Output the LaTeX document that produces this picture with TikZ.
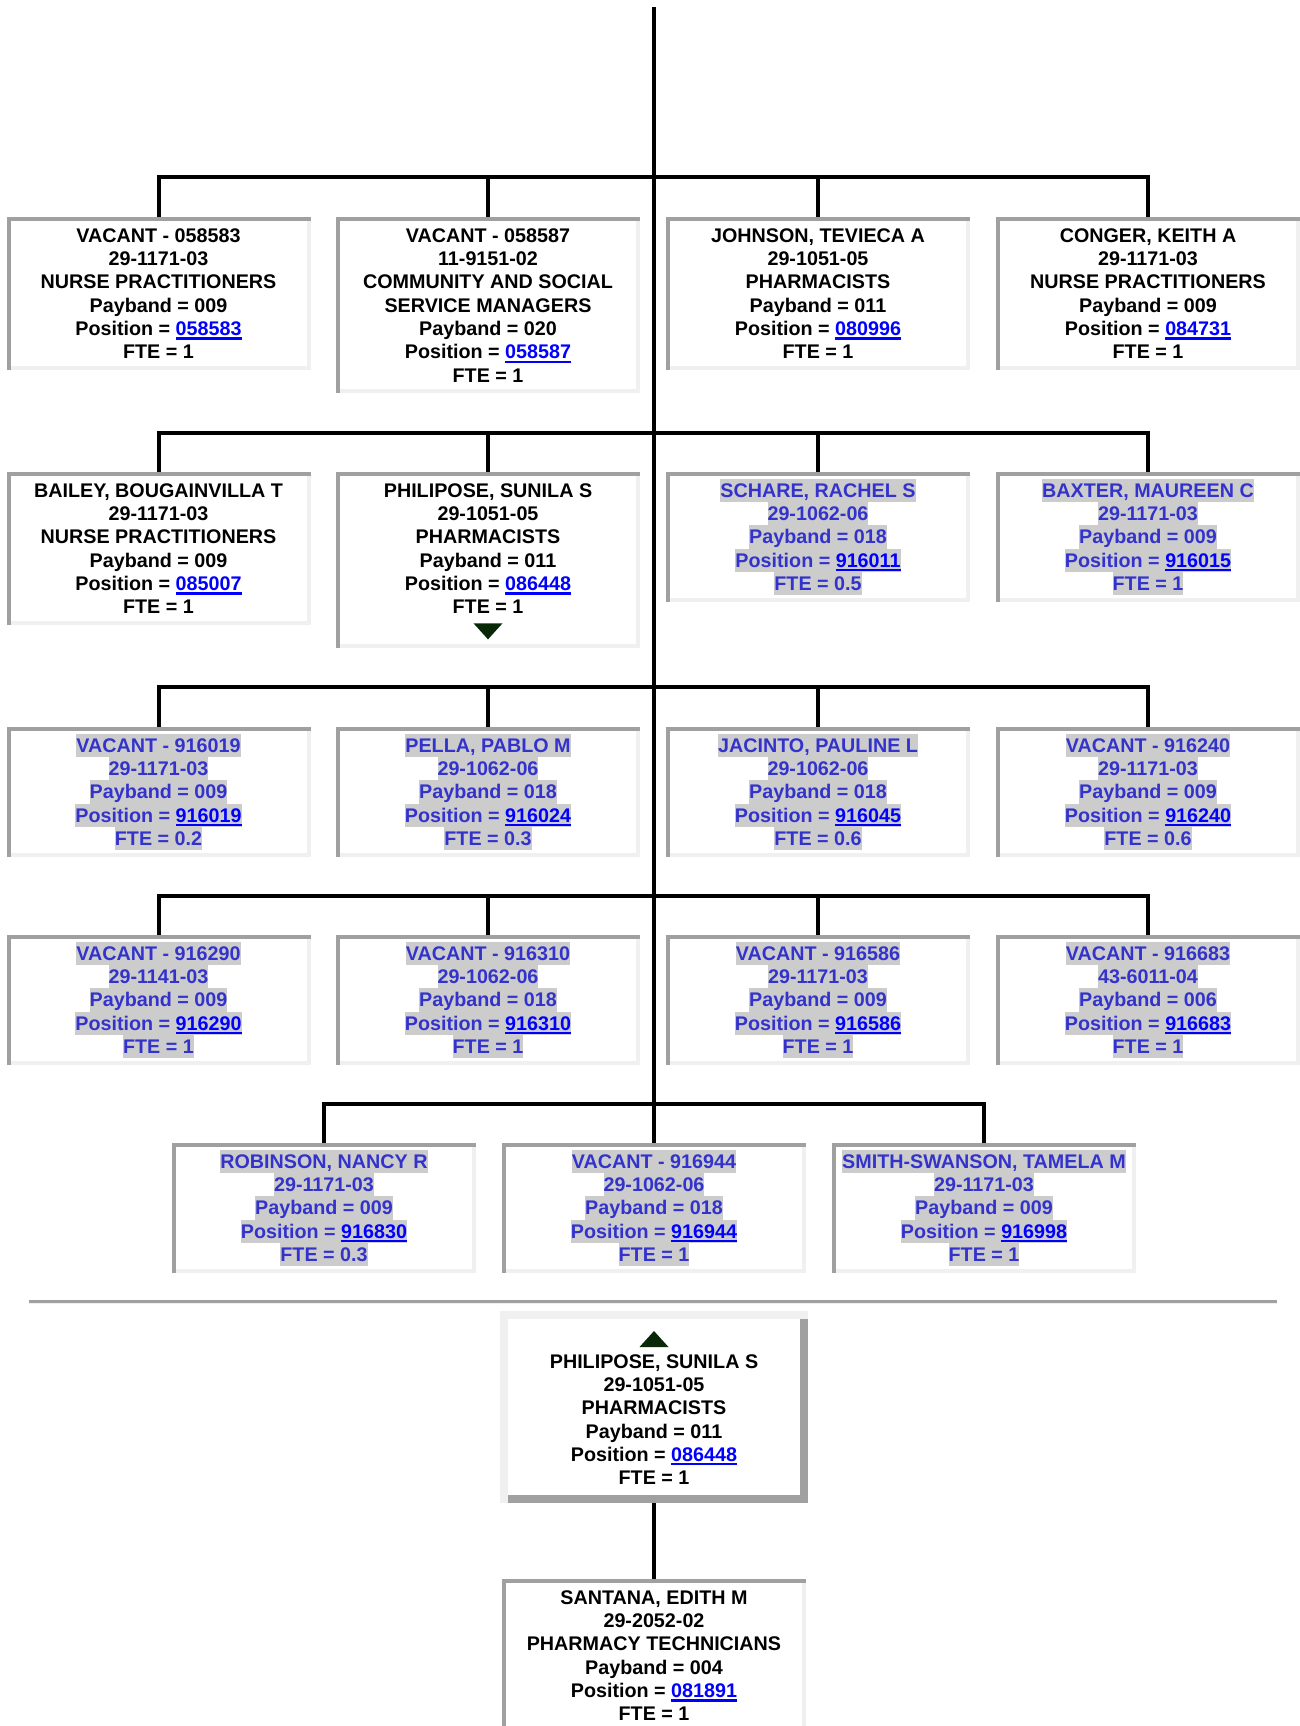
\documentclass[tikz,border=0pt]{standalone}
\usepackage{fontspec}
\setmainfont{Liberation Sans}
\definecolor{bDark}{RGB}{160, 160, 160}
\definecolor{bLight}{RGB}{240, 240, 240}
\definecolor{hlGray}{RGB}{204, 204, 204}
\definecolor{txtBlue}{RGB}{51, 51, 204}
\definecolor{linkBlue}{RGB}{0, 0, 255}
\definecolor{triGreen}{RGB}{8, 40, 8}
\usetikzlibrary{backgrounds}
\newcommand{\posStrut}{\rule[-3.5pt]{0pt}{17.5pt}}
\newcommand{\hl}[1]{{\setlength{\fboxsep}{0pt}\colorbox{hlGray}{\posStrut#1}}}
\newcommand{\posLink}[1]{\textcolor{linkBlue}{\setbox0=\hbox{#1}\rlap{\rule[-3pt]{\wd0}{1.6pt}}\box0}}

\begin{document}
\begin{tikzpicture}[
    x=0.75pt, y=-0.75pt,
    font=\bfseries\fontsize{14.8pt}{17.5pt}\selectfont,
    darkedge/.style={draw=bDark, line width=3pt, line cap=rect},
    lightedge/.style={draw=bLight, line width=6pt, line cap=rect},
    posbox/.style={rectangle, anchor=north, draw=bLight, line width=3pt, outer sep=0pt,
                   minimum width=225pt, inner xsep=0pt, inner ysep=3.375pt,
                   align=center,
                   append after command={
                     (\tikzlastnode.south west) edge[darkedge] (\tikzlastnode.north west)
                     (\tikzlastnode.north west) edge[darkedge] (\tikzlastnode.north east)}},
    openbox/.style={posbox, text=txtBlue},
    focusbox/.style={rectangle, anchor=north, draw=bDark, line width=6pt, outer sep=0pt,
                     minimum width=225pt, inner xsep=0pt, inner ysep=7.35pt,
                     align=center,
                     append after command={
                       (\tikzlastnode.south west) edge[lightedge] (\tikzlastnode.north west)
                       (\tikzlastnode.north west) edge[lightedge] (\tikzlastnode.north east)}},
    conn/.style={draw=black, line width=3pt}
  ]
    \useasboundingbox (0,0) rectangle (1299,1726);

    % Top of the trunk
    \coordinate (root) at (654,7);

    % Row 1
    \node[posbox] (r1c1) at (158.5,219)
      {\posStrut VACANT - 058583\\29-1171-03\\NURSE PRACTITIONERS\\Payband = 009\\Position = \posLink{058583}\\FTE = 1\posStrut};
    \node[posbox] (r1c2) at (488,219)
      {\posStrut VACANT - 058587\\11-9151-02\\COMMUNITY AND SOCIAL\\SERVICE MANAGERS\\Payband = 020\\Position = \posLink{058587}\\FTE = 1\posStrut};
    \node[posbox] (r1c3) at (818,219)
      {\posStrut JOHNSON, TEVIECA A\\29-1051-05\\PHARMACISTS\\Payband = 011\\Position = \posLink{080996}\\FTE = 1\posStrut};
    \node[posbox] (r1c4) at (1148,219)
      {\posStrut CONGER, KEITH A\\29-1171-03\\NURSE PRACTITIONERS\\Payband = 009\\Position = \posLink{084731}\\FTE = 1\posStrut};

    % Row 2
    \node[posbox] (r2c1) at (158.5,474)
      {\posStrut BAILEY, BOUGAINVILLA T\\29-1171-03\\NURSE PRACTITIONERS\\Payband = 009\\Position = \posLink{085007}\\FTE = 1\posStrut};
    \node[posbox] (r2c2) at (488,474)
      {\posStrut PHILIPOSE, SUNILA S\\29-1051-05\\PHARMACISTS\\Payband = 011\\Position = \posLink{086448}\\FTE = 1\\\posStrut};
    \fill[triGreen, shift={(r2c2.south)}] (-14.5,-23) -- (14.5,-23) -- (0,-7) -- cycle;
    \node[openbox] (r2c3) at (818,474)
      {\hl{SCHARE, RACHEL S}\\\hl{29-1062-06}\\\hl{Payband = 018}\\\hl{Position = \posLink{916011}}\\\hl{FTE = 0.5}};
    \node[openbox] (r2c4) at (1148,474)
      {\hl{BAXTER, MAUREEN C}\\\hl{29-1171-03}\\\hl{Payband = 009}\\\hl{Position = \posLink{916015}}\\\hl{FTE = 1}};

    % Row 3
    \node[openbox] (r3c1) at (158.5,729)
      {\hl{VACANT - 916019}\\\hl{29-1171-03}\\\hl{Payband = 009}\\\hl{Position = \posLink{916019}}\\\hl{FTE = 0.2}};
    \node[openbox] (r3c2) at (488,729)
      {\hl{PELLA, PABLO M}\\\hl{29-1062-06}\\\hl{Payband = 018}\\\hl{Position = \posLink{916024}}\\\hl{FTE = 0.3}};
    \node[openbox] (r3c3) at (818,729)
      {\hl{JACINTO, PAULINE L}\\\hl{29-1062-06}\\\hl{Payband = 018}\\\hl{Position = \posLink{916045}}\\\hl{FTE = 0.6}};
    \node[openbox] (r3c4) at (1148,729)
      {\hl{VACANT - 916240}\\\hl{29-1171-03}\\\hl{Payband = 009}\\\hl{Position = \posLink{916240}}\\\hl{FTE = 0.6}};

    % Row 4
    \node[openbox] (r4c1) at (158.5,937)
      {\hl{VACANT - 916290}\\\hl{29-1141-03}\\\hl{Payband = 009}\\\hl{Position = \posLink{916290}}\\\hl{FTE = 1}};
    \node[openbox] (r4c2) at (488,937)
      {\hl{VACANT - 916310}\\\hl{29-1062-06}\\\hl{Payband = 018}\\\hl{Position = \posLink{916310}}\\\hl{FTE = 1}};
    \node[openbox] (r4c3) at (818,937)
      {\hl{VACANT - 916586}\\\hl{29-1171-03}\\\hl{Payband = 009}\\\hl{Position = \posLink{916586}}\\\hl{FTE = 1}};
    \node[openbox] (r4c4) at (1148,937)
      {\hl{VACANT - 916683}\\\hl{43-6011-04}\\\hl{Payband = 006}\\\hl{Position = \posLink{916683}}\\\hl{FTE = 1}};

    % Row 5
    \node[openbox] (r5c1) at (324,1145)
      {\hl{ROBINSON, NANCY R}\\\hl{29-1171-03}\\\hl{Payband = 009}\\\hl{Position = \posLink{916830}}\\\hl{FTE = 0.3}};
    \node[openbox] (r5c2) at (654,1145)
      {\hl{VACANT - 916944}\\\hl{29-1062-06}\\\hl{Payband = 018}\\\hl{Position = \posLink{916944}}\\\hl{FTE = 1}};
    \node[openbox] (r5c3) at (984,1145)
      {\hl{SMITH-SWANSON, TAMELA M}\\\hl{29-1171-03}\\\hl{Payband = 009}\\\hl{Position = \posLink{916998}}\\\hl{FTE = 1}};

    % Separator rule
    \draw[bDark, line width=2.25pt] (29,1301) -- (1277,1301);
    \draw[bLight, line width=0.75pt] (29,1303.5) -- (1277,1303.5);

    % Focus position and its report
    \node[focusbox] (focus) at (654,1315)
      {\rule{0pt}{14.9pt}\\PHILIPOSE, SUNILA S\\29-1051-05\\PHARMACISTS\\Payband = 011\\Position = \posLink{086448}\\FTE = 1\posStrut};
    \fill[triGreen, shift={(focus.north)}] (-14.5,32) -- (14.5,32) -- (0,16) -- cycle;
    \node[posbox] (sub) at (654,1581)
      {\posStrut SANTANA, EDITH M\\29-2052-02\\PHARMACY TECHNICIANS\\Payband = 004\\Position = \posLink{081891}\\FTE = 1\posStrut};

    \begin{scope}[on background layer]
      \draw[conn] (root) -- (r5c2.north);
      \draw[conn] (r1c1.north) -- ++(0,-42) -| (r1c4.north);
      \draw[conn] (r1c2.north) -- ++(0,-42);
      \draw[conn] (r1c3.north) -- ++(0,-42);
      \draw[conn] (r2c1.north) -- ++(0,-41) -| (r2c4.north);
      \draw[conn] (r2c2.north) -- ++(0,-41);
      \draw[conn] (r2c3.north) -- ++(0,-41);
      \draw[conn] (r3c1.north) -- ++(0,-42) -| (r3c4.north);
      \draw[conn] (r3c2.north) -- ++(0,-42);
      \draw[conn] (r3c3.north) -- ++(0,-42);
      \draw[conn] (r4c1.north) -- ++(0,-41) -| (r4c4.north);
      \draw[conn] (r4c2.north) -- ++(0,-41);
      \draw[conn] (r4c3.north) -- ++(0,-41);
      \draw[conn] (r5c1.north) -- ++(0,-41) -| (r5c3.north);
      \draw[conn] (focus.south) -- (sub.north);
    \end{scope}
\end{tikzpicture}
\end{document}
